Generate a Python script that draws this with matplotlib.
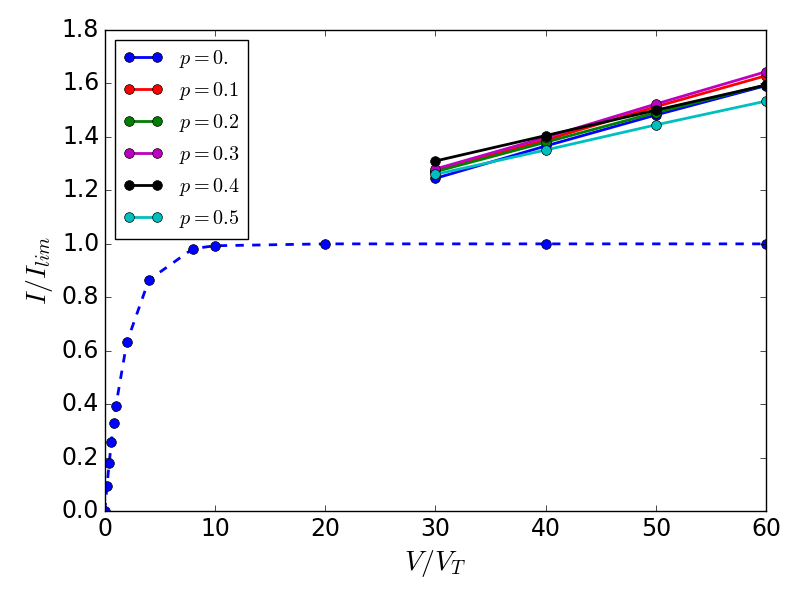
import matplotlib
matplotlib.use('Agg')
import matplotlib.pyplot as plt

plt.style.use('classic')

# dashed reference curve
vRef = [0, 0.2, 0.4, 0.6, 0.8, 1, 2, 4, 8, 10, 20, 40, 60]
iRef = [0.0, 0.095, 0.181, 0.259, 0.330, 0.393, 0.632, 0.865, 0.982, 0.993, 1.0, 1.0, 1.0]

# solid curves, one per p
vHigh = [30, 40, 50, 60]
pLabels = ['$p=0.$', '$p=0.1$', '$p=0.2$', '$p=0.3$', '$p=0.4$', '$p=0.5$']
iP0 = [1.245, 1.366, 1.482, 1.592]
iP1 = [1.274, 1.388, 1.513, 1.629]
iP2 = [1.270, 1.380, 1.491, 1.595]
iP3 = [1.280, 1.398, 1.523, 1.644]
iP4 = [1.310, 1.405, 1.500, 1.594]
iP5 = [1.260, 1.351, 1.445, 1.534]
colors = ['b', 'r', 'g', 'm', 'k', 'c']

fig = plt.figure(figsize=(8, 6), dpi=100)
ax = fig.add_axes([0.131, 0.148, 0.8265, 0.802])

ax.plot(vRef, iRef, 'o--', color='b', lw=2, markersize=7)
for vals, c, lab in zip([iP0, iP1, iP2, iP3, iP4, iP5], colors, pLabels):
    ax.plot(vHigh, vals, 'o-', color=c, lw=2, markersize=7, label=lab)

ax.set_xlim(0, 60)
ax.set_ylim(0, 1.8)
ax.set_xticks([0, 10, 20, 30, 40, 50, 60])
ax.set_yticks([0.0, 0.2, 0.4, 0.6, 0.8, 1.0, 1.2, 1.4, 1.6, 1.8])
ax.tick_params(labelsize=17)
ax.set_xlabel('$V/V_T$', fontsize=20)
ax.set_ylabel('$I/I_{lim}$', fontsize=20)
ax.legend(loc='upper left', fontsize=14.5, numpoints=2)

fig.savefig('out.png', dpi=100)
